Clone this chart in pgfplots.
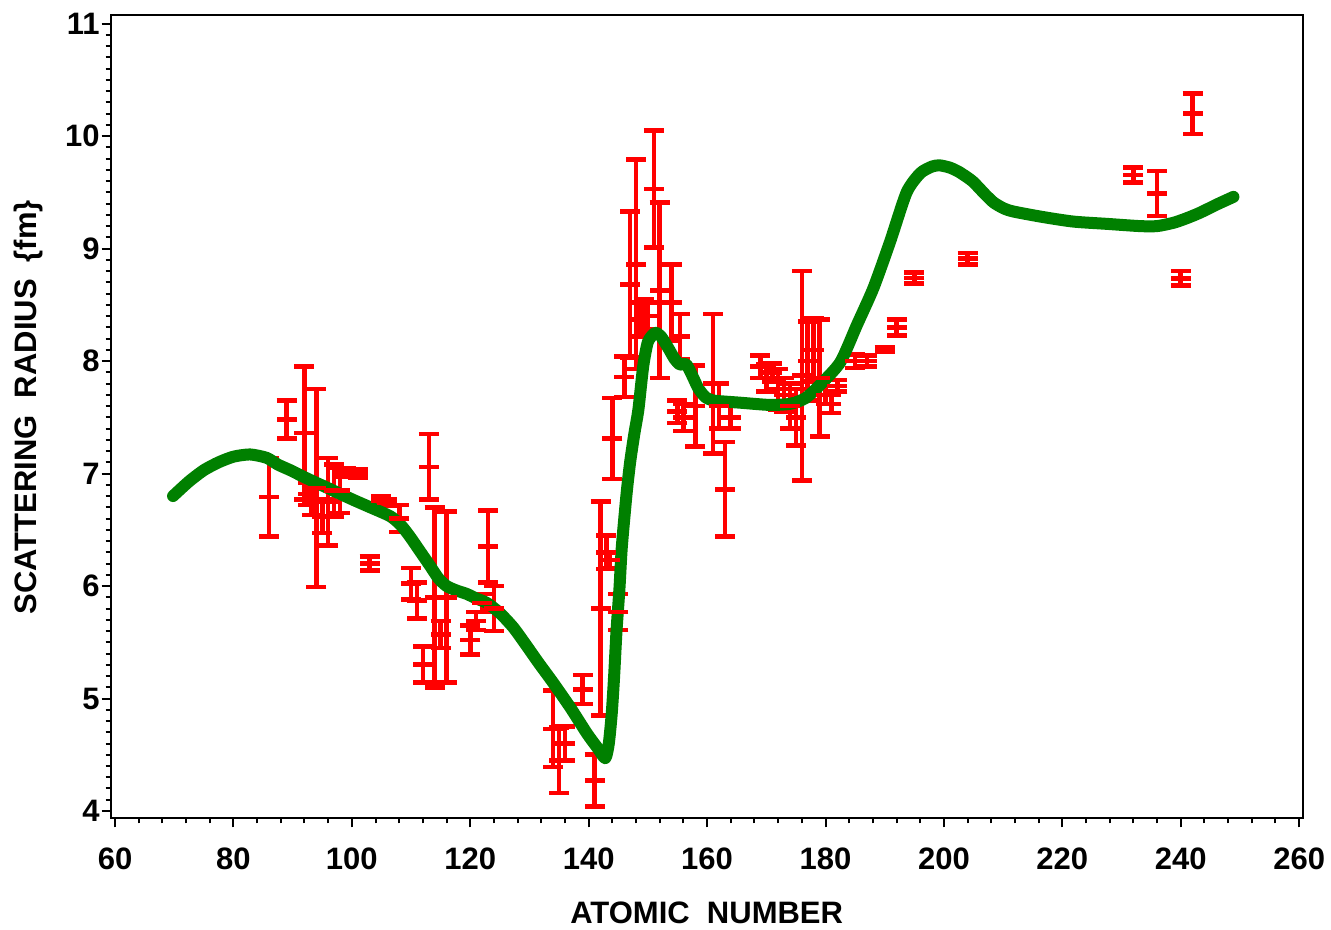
\documentclass[border=0pt]{standalone}
\usepackage{fontspec}
\setmainfont{Liberation Sans}
\usepackage{pgfplots}
\pgfplotsset{compat=1.18}
\usepackage{pgfplotstable}
\definecolor{curvegreen}{RGB}{0,128,0}
\definecolor{barred}{RGB}{255,0,0}

\pgfplotstableread{
x y e
86 6.79 0.35
89 7.48 0.17
92 7.36 0.59
92.6 6.82 0.10
93.2 6.75 0.12
94 6.87 0.88
95 6.62 0.15
96 6.75 0.39
97 6.85 0.23
98 6.85 0.20
99 7.01 0.04
101 7.00 0.04
103 6.20 0.06
105 6.76 0.04
106 6.74 0.03
108 6.60 0.12
110 6.02 0.14
111 5.87 0.16
112 5.30 0.16
113 7.06 0.29
114 5.90 0.80
115 5.57 0.12
116 5.90 0.76
120 5.52 0.13
121 5.69 0.08
122 5.85 0.08
123 6.35 0.32
124 5.80 0.20
134 4.73 0.34
135 4.45 0.29
136 4.60 0.15
139 5.08 0.13
141 4.27 0.23
142 5.80 0.95
143 6.30 0.15
143.6 6.23 0.07
144 7.31 0.36
145 5.77 0.16
146 7.86 0.18
147 8.68 0.65
148 8.86 0.93
148.6 8.37 0.15
149.3 8.40 0.15
150 8.40 0.12
151 9.53 0.52
152 8.63 0.78
154 8.52 0.34
155.4 8.22 0.20
155 7.55 0.10
156 7.50 0.12
158 7.60 0.36
161 7.80 0.62
162 7.60 0.20
163 6.86 0.42
164 7.50 0.10
169 7.95 0.10
170 7.85 0.12
171 7.90 0.08
172 7.75 0.18
173 7.70 0.15
174 7.60 0.20
175 7.50 0.25
176 7.87 0.93
177 8.00 0.35
178 8.10 0.28
179 7.85 0.52
180 7.70 0.08
181 7.62 0.08
182 7.78 0.05
185 8.00 0.06
187 8.00 0.05
190 8.10 0.02
192 8.30 0.07
195 8.74 0.05
204 8.91 0.05
232 9.655 0.065
236 9.49 0.20
240 8.735 0.065
242 10.20 0.18
}\errdata

\begin{document}
\begin{tikzpicture}
\begin{axis}[
  at={(0,0)}, anchor=south west,
  scale only axis, width=596pt, height=401.65pt,
  xmin=59.27, xmax=260.6, ymin=3.935, ymax=11.077,
  xtick={60,80,...,260}, ytick={4,5,...,11},
  minor x tick num=4, minor y tick num=9,
  tick align=outside, tick pos=left,
  major tick length=4.5pt, minor tick length=2.5pt,
  every tick/.style={black, line width=1pt},
  axis line style={line width=1pt},
  /pgf/number format/assume math mode=true,
  ticklabel style={font=\fontsize{15.5}{18}\selectfont\bfseries},
  xticklabel style={yshift=-6.5pt},
  yticklabel style={xshift=2.5pt},
  clip=true,
]
\addplot[barred, only marks, mark=-, mark size=5pt, mark options={line width=2.3pt, barred},
  error bars/.cd, y dir=both, y explicit,
  error bar style={line width=2.3pt, barred},
  error mark options={rotate=90, mark size=5pt, line width=2.3pt, barred}]
  table[x=x, y=y, y error=e] {\errdata};
\addplot[curvegreen, line width=6pt, line cap=round, line join=round, smooth, tension=0.4, no marks] coordinates {
(69.8,6.80) (72.5,6.93) (75,7.03) (77.5,7.10) (80,7.15) (82.8,7.17) (85.6,7.14) (87.5,7.08) (89.6,7.03) (91.5,6.98) (93.5,6.93) (96,6.87) (98,6.82) (100.5,6.76) (103.1,6.70) (106.5,6.62) (108.3,6.54) (109.8,6.44) (111.5,6.31) (113.2,6.18) (114.6,6.07) (116,6.00) (117.7,5.96) (119.4,5.93) (121,5.89) (122.8,5.85) (125,5.76) (127.3,5.63) (129.5,5.47) (131.5,5.32) (134,5.14) (136.9,4.92) (139.7,4.69) (141.5,4.56) (142.8,4.47) (143.4,4.6) (143.9,4.87) (144.3,5.2) (144.7,5.6) (145.2,5.98) (145.6,6.35) (146.4,6.82) (147,7.1) (147.7,7.35) (148.4,7.57) (149.2,7.95) (150,8.17) (151.2,8.25) (152.2,8.22) (153.4,8.12) (154.5,8.02) (155.4,7.97) (156.5,7.97) (157.5,7.87) (158.5,7.76) (159.7,7.68) (161,7.65) (163,7.64) (165.6,7.63) (170.6,7.61) (174,7.62) (176.6,7.67) (179.1,7.79) (182.5,7.99) (185.3,8.32) (188.1,8.65) (190.9,9.06) (193.7,9.5) (196,9.67) (198,9.73) (199.3,9.74) (201,9.72) (202.6,9.68) (204.8,9.6) (207,9.48) (208.4,9.41) (210,9.36) (211.7,9.33) (216.8,9.28) (221.9,9.24) (227.5,9.22) (233.1,9.2) (236,9.2) (238.8,9.23) (241,9.27) (243.3,9.32) (246,9.39) (248.9,9.46)
};
\end{axis}
\node[font=\fontsize{15.5}{18}\selectfont\bfseries, anchor=center] at (298pt,-47.35pt) {ATOMIC\ \ NUMBER};
\node[font=\fontsize{15.5}{18}\selectfont\bfseries, anchor=center, rotate=90] at (-41.35pt,205.5pt) {SCATTERING\ \ RADIUS\ \ \{fm\}};
\pgfresetboundingbox
\path[use as bounding box] (-55.35pt,-55.85pt) rectangle (610.15pt,409.15pt);
\end{tikzpicture}
\end{document}
